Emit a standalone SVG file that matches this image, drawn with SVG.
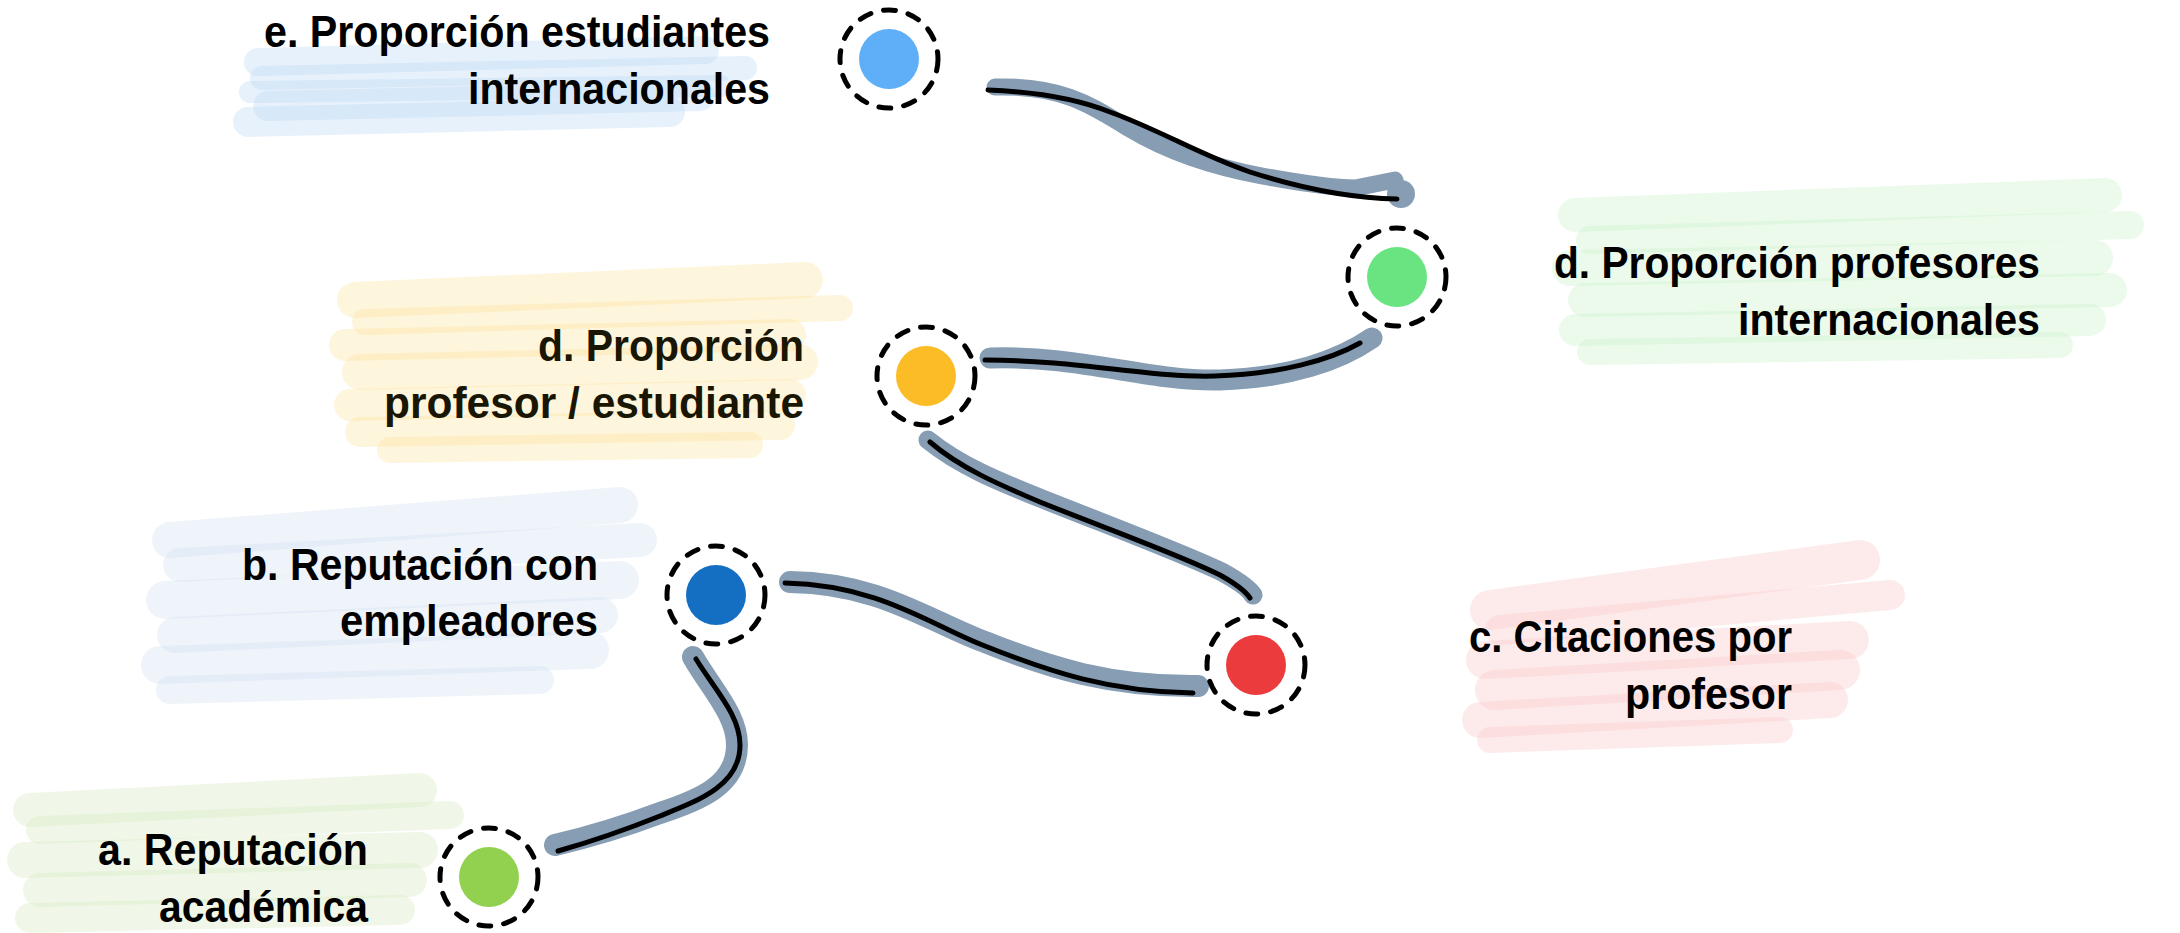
<svg xmlns="http://www.w3.org/2000/svg" width="2180" height="933" viewBox="0 0 2180 933">
  <style>
    .lbl { font-family: "Liberation Sans", Arial, sans-serif; font-weight: bold; font-size: 44px; fill: #000; text-anchor: end; }
    .hl line, .hl path { stroke-linecap: round; fill: none; stroke-opacity: 0.34; }
    .hl-blue { stroke: #b9d5f3; }
    .hl-green { stroke: #c6efc6; }
    .hl-yellow { stroke: #fbe39c; }
    .hl-steel { stroke: #cfdfef; }
    .hl-pink { stroke: #f8c4c4; }
    .hl-lime { stroke: #d2e8bd; }
    .ring { fill: none; stroke: #000; stroke-width: 5; stroke-dasharray: 12 13; stroke-linecap: round; }
    .band { fill: none; stroke: #869db3; stroke-linecap: round; stroke-linejoin: round; }
    .wire { fill: none; stroke: #000; stroke-width: 5; stroke-linecap: round; }
  </style>

  <!-- label highlights -->
  <g id="highlights" class="hl">
    <g class="hl-blue">
      <line x1="258" y1="62" x2="705" y2="50" stroke-width="28"/>
      <line x1="262" y1="78" x2="745" y2="68" stroke-width="24"/>
      <line x1="250" y1="92" x2="720" y2="86" stroke-width="22"/>
      <line x1="268" y1="106" x2="700" y2="96" stroke-width="30"/>
      <line x1="248" y1="122" x2="670" y2="112" stroke-width="30"/>
    </g>
    <g class="hl-green">
      <line x1="1575" y1="215" x2="2105" y2="195" stroke-width="34"/>
      <line x1="1590" y1="240" x2="2130" y2="225" stroke-width="28"/>
      <line x1="1570" y1="268" x2="2095" y2="258" stroke-width="36"/>
      <line x1="1585" y1="300" x2="2110" y2="290" stroke-width="34"/>
      <line x1="1575" y1="330" x2="2090" y2="320" stroke-width="32"/>
      <line x1="1590" y1="352" x2="2060" y2="345" stroke-width="26"/>
    </g>
    <g class="hl-yellow">
      <line x1="355" y1="300" x2="805" y2="280" stroke-width="36"/>
      <line x1="365" y1="322" x2="840" y2="308" stroke-width="26"/>
      <line x1="345" y1="345" x2="790" y2="335" stroke-width="32"/>
      <line x1="360" y1="372" x2="800" y2="362" stroke-width="36"/>
      <line x1="350" y1="405" x2="790" y2="395" stroke-width="32"/>
      <line x1="360" y1="432" x2="780" y2="425" stroke-width="30"/>
      <line x1="390" y1="450" x2="750" y2="445" stroke-width="26"/>
    </g>
    <g class="hl-steel">
      <line x1="170" y1="540" x2="620" y2="505" stroke-width="36"/>
      <line x1="180" y1="565" x2="640" y2="540" stroke-width="34"/>
      <line x1="165" y1="600" x2="620" y2="580" stroke-width="38"/>
      <line x1="175" y1="635" x2="600" y2="615" stroke-width="36"/>
      <line x1="160" y1="665" x2="590" y2="650" stroke-width="38"/>
      <line x1="170" y1="690" x2="540" y2="680" stroke-width="28"/>
    </g>
    <g class="hl-pink">
      <line x1="1490" y1="610" x2="1860" y2="560" stroke-width="40"/>
      <line x1="1500" y1="630" x2="1890" y2="595" stroke-width="30"/>
      <line x1="1485" y1="660" x2="1850" y2="640" stroke-width="38"/>
      <line x1="1495" y1="690" x2="1840" y2="670" stroke-width="40"/>
      <line x1="1480" y1="720" x2="1830" y2="700" stroke-width="36"/>
      <line x1="1490" y1="740" x2="1780" y2="730" stroke-width="26"/>
    </g>
    <g class="hl-lime">
      <line x1="30" y1="810" x2="420" y2="790" stroke-width="34"/>
      <line x1="40" y1="830" x2="450" y2="815" stroke-width="28"/>
      <line x1="25" y1="860" x2="420" y2="850" stroke-width="36"/>
      <line x1="40" y1="890" x2="410" y2="880" stroke-width="34"/>
      <line x1="30" y1="918" x2="400" y2="910" stroke-width="30"/>
    </g>
  </g>

  <!-- connectors -->
  <g id="connectors">
    <g id="conn-e-d">
      <path class="band" stroke-width="17" d="M995,87 C1065,85 1095,108 1128,128 C1168,152 1210,166 1262,176 C1300,183 1330,188 1355,188 L1395,180"/>
      <circle cx="1401" cy="194" r="14" fill="#869db3"/>
      <path class="wire" d="M988,90 C1040,92 1080,100 1110,112 C1160,130 1200,155 1250,172 C1300,188 1350,198 1397,199"/>
    </g>
    <g id="conn-d-y">
      <path class="band" stroke-width="21" d="M990,358 C1080,355 1150,382 1220,380 C1290,378 1340,360 1372,338"/>
      <path class="wire" d="M985,360 C1080,360 1150,378 1215,376 C1280,374 1330,360 1360,343"/>
    </g>
    <g id="conn-y-c">
      <path class="band" stroke-width="19" d="M928,440 C960,466 1000,482 1040,498 C1110,526 1180,552 1222,572 C1240,582 1250,590 1253,595"/>
      <path class="wire" d="M930,442 C960,468 1000,485 1040,502 C1110,530 1180,555 1220,575 C1238,585 1246,592 1250,598"/>
    </g>
    <g id="conn-b-c">
      <path class="band" stroke-width="22" d="M790,582 C880,583 930,622 985,642 C1050,668 1110,687 1198,686"/>
      <path class="wire" d="M785,583 C880,585 930,625 985,646 C1050,672 1110,692 1193,693"/>
    </g>
    <g id="conn-b-a">
      <path class="band" stroke-width="22" d="M693,657 C712,690 737,715 737,745 C737,785 700,800 660,813 C620,828 585,838 555,845"/>
      <path class="wire" d="M696,659 C715,690 740,715 740,745 C740,785 700,800 660,816 C620,832 590,842 558,851"/>
    </g>
  </g>

  <!-- nodes -->
  <g id="node-e">
    <circle cx="889" cy="59" r="30" fill="#5eaff8"/>
    <circle class="ring" cx="889" cy="59" r="49"/>
    <text class="lbl" x="770" y="47" textLength="506" lengthAdjust="spacingAndGlyphs">e. Proporción estudiantes</text>
    <text class="lbl" x="770" y="104" textLength="302" lengthAdjust="spacingAndGlyphs">internacionales</text>
  </g>
  <g id="node-d-prof">
    <circle cx="1397" cy="277" r="30" fill="#69e481"/>
    <circle class="ring" cx="1397" cy="277" r="49"/>
    <text class="lbl" x="2040" y="278" textLength="486" lengthAdjust="spacingAndGlyphs">d. Proporción profesores</text>
    <text class="lbl" x="2040" y="335" textLength="302" lengthAdjust="spacingAndGlyphs">internacionales</text>
  </g>
  <g id="node-d-ratio">
    <circle cx="926" cy="376" r="30" fill="#fbbc26"/>
    <circle class="ring" cx="926" cy="376" r="49"/>
    <text class="lbl" x="804" y="361" style="fill:#1a1604" textLength="266" lengthAdjust="spacingAndGlyphs">d. Proporción</text>
    <text class="lbl" x="804" y="418" style="fill:#1a1604" textLength="420" lengthAdjust="spacingAndGlyphs">profesor / estudiante</text>
  </g>
  <g id="node-b">
    <circle cx="716" cy="595" r="30" fill="#146ec2"/>
    <circle class="ring" cx="716" cy="595" r="49"/>
    <text class="lbl" x="598" y="580" textLength="356" lengthAdjust="spacingAndGlyphs">b. Reputación con</text>
    <text class="lbl" x="598" y="636" textLength="258" lengthAdjust="spacingAndGlyphs">empleadores</text>
  </g>
  <g id="node-c">
    <circle cx="1256" cy="665" r="30" fill="#ec3b3c"/>
    <circle class="ring" cx="1256" cy="665" r="49"/>
    <text class="lbl" x="1792" y="652" textLength="323" lengthAdjust="spacingAndGlyphs">c. Citaciones por</text>
    <text class="lbl" x="1792" y="709" textLength="167" lengthAdjust="spacingAndGlyphs">profesor</text>
  </g>
  <g id="node-a">
    <circle cx="489" cy="877" r="30" fill="#92d050"/>
    <circle class="ring" cx="489" cy="877" r="49"/>
    <text class="lbl" x="368" y="865" textLength="270" lengthAdjust="spacingAndGlyphs">a. Reputación</text>
    <text class="lbl" x="368" y="922" textLength="209" lengthAdjust="spacingAndGlyphs">académica</text>
  </g>
</svg>
